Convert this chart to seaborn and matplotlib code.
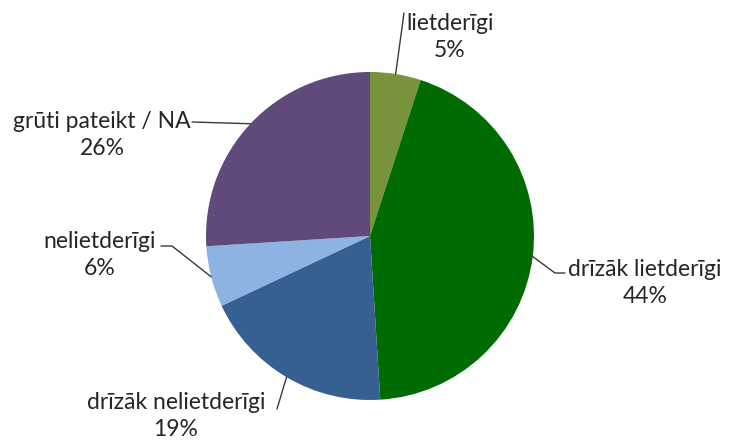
import numpy as np
import matplotlib
matplotlib.use("Agg")
import matplotlib.pyplot as plt
import seaborn as sns

sns.set_style("white")
plt.rcParams['font.family'] = ['Lato', 'DejaVu Sans']

# data (clockwise from the top)
labels = ['lietderīgi', 'drīzāk lietderīgi', 'drīzāk nelietderīgi', 'nelietderīgi', 'grūti pateikt / NA']
values = [5, 44, 19, 6, 26]
colors = ['#77933C', '#006B00', '#376092', '#8DB3E2', '#604A7B']

W, H = 731, 443
fig = plt.figure(figsize=(W / 100, H / 100), dpi=100)

# pie geometry in pixels
cx, cy, r = 370, 236, 164
ax = fig.add_axes([(cx - r) / W, (H - cy - r) / H, 2 * r / W, 2 * r / H])
wedges, _ = ax.pie(values, colors=colors, startangle=90, counterclock=False,
                   radius=1, wedgeprops=dict(linewidth=0))
ax.set_xlim(-1, 1)
ax.set_ylim(-1, 1)
ax.axis('off')


def px(x, y):
    # pixel position -> pie data coordinates
    return (x - cx) / r, (cy - y) / r


# text block centres and leader line elbows (pixels)
text_pos = [(450, 37), (645, 283), (176, 416), (100, 255), (102, 135)]
elbows = [[(404, 13)],
          [(555, 273), (565, 273)],
          [(277, 409)],
          [(172, 246), (161, 246)],
          [(192, 122)]]

for w, lab, val, tp, el in zip(wedges, labels, values, text_pos, elbows):
    mid = np.deg2rad((w.theta1 + w.theta2) / 2)
    pts = [(np.cos(mid), np.sin(mid))] + [px(*p) for p in el]
    xs, ys = zip(*pts)
    ax.plot(xs, ys, color='#3a3a3a', lw=1, clip_on=False)
    tx, ty = px(*tp)
    ax.text(tx, ty, f'{lab}\n{val}%', ha='center', va='center', fontsize=16.5,
            color='#262626', linespacing=1.3, clip_on=False)

fig.savefig('out.png', dpi=100)
